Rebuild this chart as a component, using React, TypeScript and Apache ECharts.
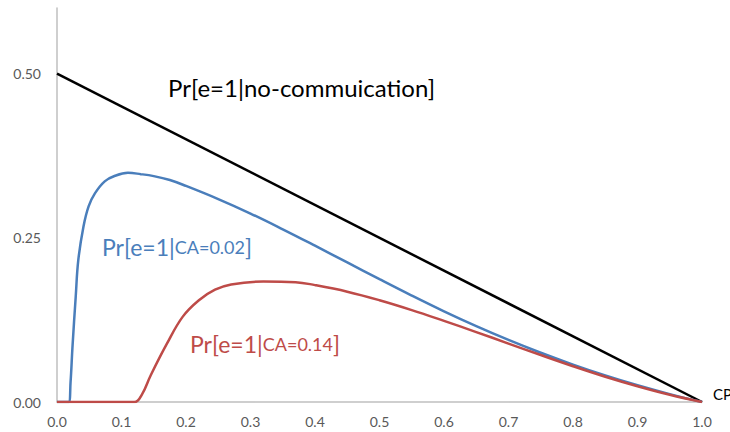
import React, { useEffect, useRef } from "react";
import * as echarts from "echarts";

const xTicks = [0, 0.1, 0.2, 0.3, 0.4, 0.5, 0.6, 0.7, 0.8, 0.9, 1.0];
const yTicks = [0, 0.25, 0.5];

const noCommX = [0, 1];
const noCommY = [0.5, 0];

const blueX = [0, 0.018, 0.021, 0.024, 0.029, 0.033, 0.041, 0.049, 0.059, 0.074, 0.09, 0.11, 0.13, 0.15, 0.175, 0.2, 0.25, 0.3, 0.35, 0.4, 0.45, 0.5, 0.55, 0.6, 0.65, 0.7, 0.75, 0.8, 0.85, 0.9, 0.95, 1.0];
const blueY = [0, 0, 0.03, 0.084, 0.16, 0.216, 0.267, 0.298, 0.318, 0.336, 0.3445, 0.349, 0.347, 0.344, 0.338, 0.329, 0.309, 0.287, 0.263, 0.238, 0.2125, 0.187, 0.162, 0.138, 0.1155, 0.0945, 0.075, 0.057, 0.0405, 0.0255, 0.012, 0];

const redX = [0, 0.12, 0.132, 0.145, 0.17, 0.195, 0.22, 0.245, 0.27, 0.32, 0.37, 0.4, 0.45, 0.5, 0.55, 0.6, 0.65, 0.7, 0.75, 0.8, 0.85, 0.9, 0.95, 1.0];
const redY = [0, 0, 0.012, 0.04, 0.088, 0.13, 0.155, 0.171, 0.179, 0.1835, 0.1825, 0.178, 0.168, 0.155, 0.14, 0.1235, 0.1065, 0.089, 0.0715, 0.0545, 0.0385, 0.024, 0.011, 0];

const labelNoComm = "Pr[e=1|no-commuication]";
const labelBlueMain = "Pr[e=1|";
const labelBlueSub = "CA=0.02";
const labelRedMain = "Pr[e=1|";
const labelRedSub = "CA=0.14";
const axisName = "CP";

const zip = (xs: number[], ys: number[]) => xs.map((x, i) => [x, ys[i]]);

export default function App() {
  const ref = useRef<HTMLDivElement>(null);
  useEffect(() => {
    if (!ref.current) return;
    const chart = echarts.init(ref.current, undefined, { renderer: "svg" });
    const font = "Lato, 'Noto Sans', sans-serif";
    const BLUE = "#4A7EBB";
    const RED = "#BE4B48";
    chart.setOption({
      animation: false,
      backgroundColor: "#ffffff",
      grid: { left: 57, right: 28, top: 8, bottom: 30, containLabel: false },
      xAxis: {
        type: "value",
        min: 0,
        max: 1,
        interval: 0.1,
        axisLine: { show: true, lineStyle: { color: "#BFBFBF", width: 1.5 } },
        axisTick: { show: false },
        splitLine: { show: false },
        axisLabel: {
          color: "#595959",
          fontFamily: font,
          fontSize: 14,
          margin: 12,
          formatter: (v: number) => {
            const t = xTicks.find((k) => Math.abs(k - v) < 1e-6);
            return t === undefined ? "" : t.toFixed(1);
          },
        },
      },
      yAxis: {
        type: "value",
        min: 0,
        max: 0.6,
        interval: 0.25,
        axisLine: { show: true, lineStyle: { color: "#BFBFBF", width: 1.5 } },
        axisTick: { show: false },
        splitLine: { show: false },
        axisLabel: {
          color: "#595959",
          fontFamily: font,
          fontSize: 14,
          margin: 16,
          showMaxLabel: false,
          formatter: (v: number) => {
            const t = yTicks.find((k) => Math.abs(k - v) < 1e-6);
            return t === undefined ? "" : t.toFixed(2);
          },
        },
      },
      series: [
        {
          type: "line",
          data: zip(noCommX, noCommY),
          symbol: "none",
          lineStyle: { color: "#000000", width: 2.5 },
          z: 2,
        },
        {
          type: "line",
          data: zip(blueX, blueY),
          symbol: "none",
          smooth: 0.4,
          lineStyle: { color: BLUE, width: 2.5 },
          z: 3,
        },
        {
          type: "line",
          data: zip(redX, redY),
          symbol: "none",
          smooth: 0.4,
          lineStyle: { color: RED, width: 2.5 },
          z: 4,
        },
      ],
      graphic: [
        {
          type: "text",
          x: 168,
          y: 87,
          style: {
            text: labelNoComm,
            font: `24px ${font}`,
            fill: "#000000",
            verticalAlign: "middle",
          },
        },
        {
          type: "text",
          x: 102,
          y: 247,
          style: {
            text: `{a|${labelBlueMain}}{b|${labelBlueSub}}{a|]}`,
            fill: BLUE,
            verticalAlign: "middle",
            rich: {
              a: { fontFamily: font, fontSize: 23, fill: BLUE, color: BLUE },
              b: { fontFamily: font, fontSize: 18, fill: BLUE, color: BLUE },
            },
          },
        },
        {
          type: "text",
          x: 190,
          y: 344,
          style: {
            text: `{a|${labelRedMain}}{b|${labelRedSub}}{a|]}`,
            fill: RED,
            verticalAlign: "middle",
            rich: {
              a: { fontFamily: font, fontSize: 23, fill: RED, color: RED },
              b: { fontFamily: font, fontSize: 18, fill: RED, color: RED },
            },
          },
        },
        {
          type: "text",
          x: 713,
          y: 394,
          style: {
            text: axisName,
            font: `15px ${font}`,
            fill: "#000000",
            verticalAlign: "middle",
          },
        },
      ],
    });
    return () => chart.dispose();
  }, []);
  return (
    <div
      ref={ref}
      style={{ position: "fixed", left: 0, top: 0, width: 730, height: 432 }}
    />
  );
}
